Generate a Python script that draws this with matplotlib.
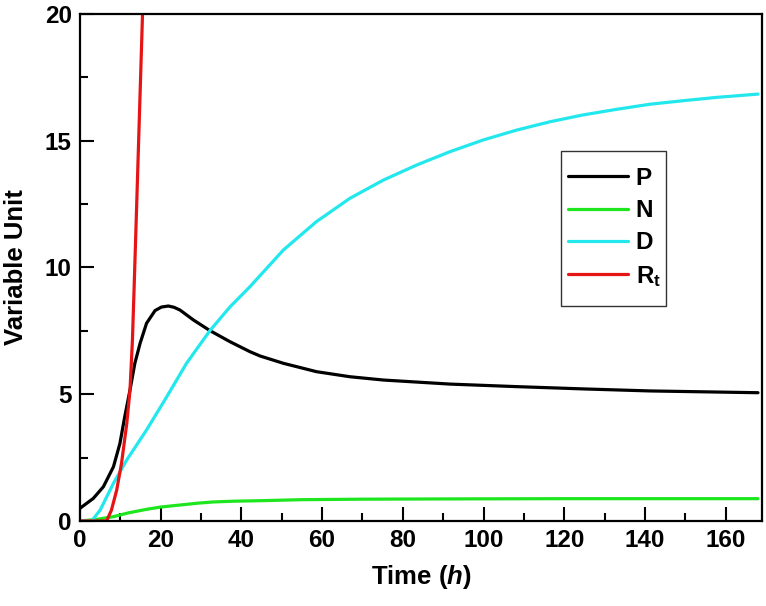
import matplotlib.pyplot as plt
from matplotlib.patches import Rectangle
from matplotlib.ticker import MultipleLocator

plt.rcParams['font.family'] = ['Liberation Sans', 'DejaVu Sans']
plt.rcParams['font.weight'] = 'bold'
plt.rcParams['mathtext.fontset'] = 'custom'
plt.rcParams['mathtext.rm'] = 'Liberation Sans:bold'
plt.rcParams['mathtext.bf'] = 'Liberation Sans:bold'
plt.rcParams['mathtext.it'] = 'Liberation Sans:italic:bold'

# values (time in h)
t_P = [0, 3.3, 5.8, 8.3, 9.9, 11.1, 12.4, 13.6, 14.9, 16.5, 18.6, 20.2, 21.9,
       23.3, 24.8, 28.1, 32.2, 37.2, 42.1, 44.6, 50.4, 58.6, 66.9, 75.2, 91.7,
       108.2, 124.7, 141.2, 168]
P = [0.50, 0.89, 1.35, 2.14, 3.06, 4.12, 5.17, 6.22, 7.01, 7.8, 8.30, 8.44,
     8.48, 8.43, 8.32, 7.93, 7.51, 7.07, 6.68, 6.51, 6.22, 5.89, 5.69, 5.56,
     5.40, 5.30, 5.21, 5.13, 5.06]

t_N = [0, 4, 8.3, 12, 16.5, 20, 24.8, 29, 33, 38, 44.6, 55, 70, 90, 120, 168]
N = [0, 0.06, 0.17, 0.32, 0.46, 0.55, 0.63, 0.70, 0.75, 0.78, 0.80, 0.84,
     0.86, 0.87, 0.88, 0.88]

t_D = [0, 2.9, 5.0, 8.3, 11.6, 16.5, 21.5, 26.4, 32.2, 37.2, 42.1, 50.4,
       58.6, 66.9, 75.2, 83.4, 91.7, 99.9, 108.2, 116.5, 124.7, 133.0, 141.2,
       149.5, 157.7, 168]
D = [0, 0, 0.43, 1.49, 2.41, 3.59, 4.90, 6.22, 7.51, 8.45, 9.24, 10.69,
     11.81, 12.73, 13.45, 14.04, 14.57, 15.03, 15.42, 15.75, 16.02, 16.24,
     16.44, 16.58, 16.71, 16.84]

t_R = [0, 6.6, 7.8, 9.1, 10.3, 11.6, 12.4, 13.0, 13.4, 14.0, 14.5, 15.0,
       15.5, 16.0]
R = [0, 0, 0.43, 1.22, 2.28, 3.85, 5.17, 7.14, 9.11, 12.2, 14.8, 17.4,
     20.0, 22.6]

fig = plt.figure(figsize=(7.66, 6.06), dpi=100)
ax = fig.add_axes([0.1044, 0.1403, 0.8904, 0.8366])

lw = 2.3
style = dict(lw=lw, solid_joinstyle='round', solid_capstyle='round')
ax.plot(t_P, P, color='black', label='P', **style)
ax.plot(t_N, N, color='#1ee61e', label='N', **style)
ax.plot(t_D, D, color='#22e8ee', label='D', **style)
ax.plot(t_R, R, color='#e61414', label=r'R$_\mathbf{t}$', **style)

ax.set_xlim(0, 169)
ax.set_ylim(0, 20)
ax.xaxis.set_major_locator(MultipleLocator(20))
ax.xaxis.set_minor_locator(MultipleLocator(10))
ax.yaxis.set_major_locator(MultipleLocator(5))
ax.yaxis.set_minor_locator(MultipleLocator(2.5))
ax.tick_params(which='major', direction='in', length=10, width=1.5,
               labelsize=17.5, pad=6)
ax.tick_params(which='minor', direction='in', length=6, width=1.5)
for lab in ax.get_xticklabels() + ax.get_yticklabels():
    lab.set_fontweight('bold')
for s in ax.spines.values():
    s.set_linewidth(1.6)

ax.set_xlabel(r'Time ($\mathit{h}$)', fontsize=18.5, fontweight='bold',
              labelpad=8)
ax.set_ylabel('Variable Unit', fontsize=18.5, fontweight='bold', labelpad=12)

# legend box is tall and narrow in the original, so draw the frame by hand
ax.add_patch(Rectangle((0.7053, 0.4241), 0.1539, 0.3057, transform=ax.transAxes,
                       facecolor='white', edgecolor='#333333', lw=1.0,
                       zorder=4))
leg = ax.legend(loc='upper left', bbox_to_anchor=(0.7053, 0.7126),
                borderaxespad=0, frameon=False,
                handlelength=2.47, handletextpad=0.3, labelspacing=0.38,
                borderpad=0.3, prop={'weight': 'bold', 'size': 17.5})
leg.set_zorder(5)

fig.savefig('out.png', dpi=100)
